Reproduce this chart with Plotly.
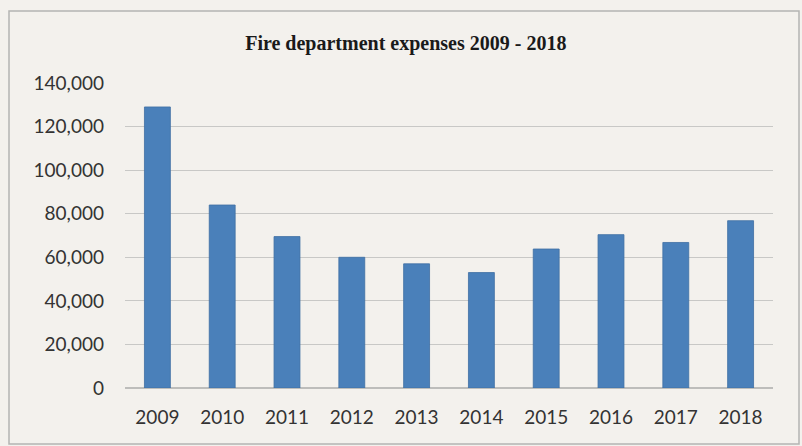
import plotly.graph_objects as go

years = ["2009", "2010", "2011", "2012", "2013", "2014", "2015", "2016", "2017", "2018"]
expenses = [129000, 84000, 69500, 60000, 57000, 53000, 63800, 70400, 66800, 76800]
tick_vals = [0, 20000, 40000, 60000, 80000, 100000, 120000, 140000]
tick_text = ["0", "20,000", "40,000", "60,000", "80,000", "100,000", "120,000", "140,000"]
title_text = "Fire department expenses 2009 - 2018"

bg = "#f3f1ed"

fig = go.Figure(
    go.Bar(
        x=years,
        y=expenses,
        marker=dict(color="#4a80ba", line=dict(color="#3f6fa3", width=0.8)),
    )
)

fig.update_layout(
    width=802,
    height=446,
    margin=dict(l=125, r=29, t=83, b=58),
    paper_bgcolor=bg,
    plot_bgcolor=bg,
    bargap=0.6,
    showlegend=False,
    title=dict(
        text="<b>" + title_text + "</b>",
        font=dict(family="Liberation Serif", size=20, color="#1a1a1a"),
        x=0.506,
        xref="container",
        xanchor="center",
        y=1 - 43 / 446,
        yref="container",
        yanchor="middle",
    ),
    font=dict(family="Lato", size=19, color="#333333"),
    xaxis=dict(
        type="category",
        showgrid=False,
        showline=False,
        ticks="",
        ticklabelstandoff=16,
        tickfont=dict(family="Lato", size=19, color="#333333"),
    ),
    yaxis=dict(
        range=[0, 140000],
        tickvals=tick_vals,
        ticktext=tick_text,
        showgrid=True,
        gridcolor="#c8c8c6",
        gridwidth=1.3,
        zeroline=True,
        zerolinecolor="#bdbdbb",
        zerolinewidth=1.5,
        showline=False,
        ticks="",
        ticklabelstandoff=20,
        tickfont=dict(family="Lato", size=19, color="#333333"),
    ),
    shapes=[
        dict(
            type="rect",
            xref="paper",
            yref="paper",
            x0=(9 - 125) / 648,
            x1=(799 - 125) / 648,
            y0=(388 - 444) / 305,
            y1=(388 - 11) / 305,
            line=dict(color="#b4b4b2", width=1.5),
            fillcolor="rgba(0,0,0,0)",
            layer="below",
        )
    ],
)

fig.write_html("out.html")
